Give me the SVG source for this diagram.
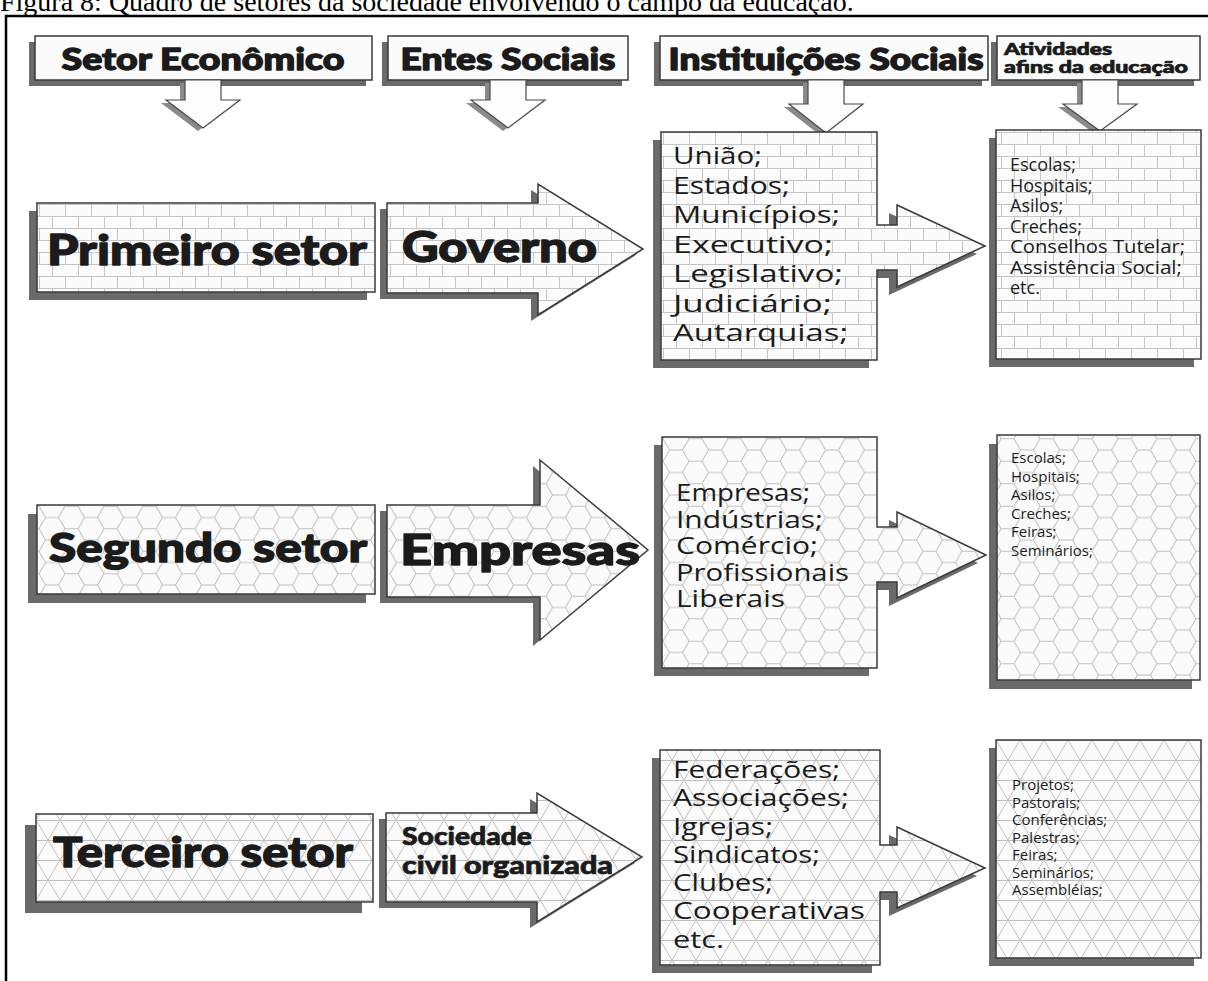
<svg xmlns="http://www.w3.org/2000/svg" width="1208" height="981" viewBox="0 0 1208 981">
<defs>
<style>
.shadow{fill:#6a6a6a}
.box{stroke:#3a3a3a;stroke-width:1.5}
.hbox{fill:#fbfbfb;stroke:#3a3a3a;stroke-width:1.5}
.darr{fill:#fdfdfd;stroke:#4a4a4a;stroke-width:1.2}
.dsh{fill:#8a8a8a}
.hdr{font-family:"Lato","DejaVu Sans",sans-serif;font-weight:900;fill:#1b1b1b;stroke:#1b1b1b;stroke-width:1.3;stroke-linejoin:round}
.hs{stroke-width:0.7}
.lst{font-family:"Open Sans","DejaVu Sans",sans-serif;fill:#1b1b1b}
.cap{font-family:"Liberation Serif","Times New Roman",serif;font-size:28px;fill:#000}
</style>
<pattern id="brick" width="26" height="24" patternUnits="userSpaceOnUse">
<rect width="26" height="24" fill="#fbfbfb"/>
<path d="M0 0.5H26M0 12.5H26M0.5 0V12M13.5 12V24" stroke="#c6c6c6" stroke-width="1" fill="none"/>
</pattern>
<pattern id="hex" width="39" height="22.5" patternUnits="userSpaceOnUse">
<rect width="39" height="22.5" fill="#fbfbfb"/>
<path d="M0 11.25L6.5 0H19.5L26 11.25L19.5 22.5H6.5ZM26 11.25H39" stroke="#c0c0c0" stroke-width="1" fill="none"/>
</pattern>
<pattern id="tri" width="24" height="40" patternUnits="userSpaceOnUse">
<rect width="24" height="40" fill="#fbfbfb"/>
<path d="M0 0.5H24M0 20.5H24M0 0L12 20L24 0M0 40L12 20L24 40" stroke="#c0c0c0" stroke-width="1" fill="none"/>
</pattern>
</defs>

<rect width="1208" height="981" fill="#fff"/>
<text class="cap" x="0" y="11">Figura 8: Quadro de setores da sociedade envolvendo o campo da educação.</text>
<rect x="6" y="16" width="1215" height="1000" fill="none" stroke="#000" stroke-width="2.5"/>

<!-- header row -->
<g id="h-setor">
<rect class="shadow" x="29" y="42" width="337" height="44"/>
<rect class="hbox" x="35" y="36" width="337" height="44"/>
<text class="hdr" x="203" y="70" font-size="30" text-anchor="middle" textLength="283" lengthAdjust="spacingAndGlyphs">Setor Econômico</text>
</g>
<g id="h-entes">
<rect class="shadow" x="382" y="42" width="240" height="44"/>
<rect class="hbox" x="388" y="36" width="240" height="44"/>
<text class="hdr" x="508" y="70" font-size="30" text-anchor="middle" textLength="215" lengthAdjust="spacingAndGlyphs">Entes Sociais</text>
</g>
<g id="h-inst">
<rect class="shadow" x="654" y="42" width="328" height="44"/>
<rect class="hbox" x="660" y="36" width="328" height="44"/>
<text class="hdr" x="826" y="70" font-size="30" text-anchor="middle" textLength="315" lengthAdjust="spacingAndGlyphs">Instituições Sociais</text>
</g>
<g id="h-ativ">
<rect class="shadow" x="991" y="42" width="203" height="44"/>
<rect class="hbox" x="997" y="36" width="203" height="44"/>
<text class="hdr hs" x="1004" y="55" font-size="16" textLength="108" lengthAdjust="spacingAndGlyphs">Atividades</text>
<text class="hdr hs" x="1004" y="73" font-size="16" textLength="184" lengthAdjust="spacingAndGlyphs">afins da educação</text>
</g>

<g id="connectors">
<g transform="translate(-5,3)">
<polygon class="dsh" points="185,80 221,80 221,100 240,100 203,128 166,100 185,100"/>
<polygon class="dsh" points="490,80 526,80 526,100 545,100 508,128 471,100 490,100"/>
<polygon class="dsh" points="808,80 844,80 844,104 863,104 826,133 789,104 808,104"/>
<polygon class="dsh" points="1082,80 1118,80 1118,104 1137,104 1100,131 1063,104 1082,104"/>
</g>
<polygon class="darr" points="185,80 221,80 221,100 240,100 203,128 166,100 185,100"/>
<polygon class="darr" points="490,80 526,80 526,100 545,100 508,128 471,100 490,100"/>
<polygon class="darr" points="808,80 844,80 844,104 863,104 826,133 789,104 808,104"/>
<polygon class="darr" points="1082,80 1118,80 1118,104 1137,104 1100,131 1063,104 1082,104"/>
</g>

<!-- row 1 -->
<g id="primeiro">
<rect class="shadow" x="29" y="211" width="338" height="89"/>
<rect class="box" x="37" y="203" width="338" height="89" fill="url(#brick)"/>
<text class="hdr" x="47" y="265" font-size="42" textLength="320" lengthAdjust="spacingAndGlyphs">Primeiro setor</text>
</g>
<g id="governo">
<polygon class="shadow" transform="translate(-7,6)" points="387,203 538,203 538,184 643,249 538,315 538,293 387,293"/>
<polygon class="box" fill="url(#brick)" points="387,203 538,203 538,184 643,249 538,315 538,293 387,293"/>
<text class="hdr" x="402" y="262" font-size="42" textLength="195" lengthAdjust="spacingAndGlyphs">Governo</text>
</g>
<g id="uniao">
<path class="shadow" transform="translate(-8,8)" d="M661 132H877V225H897V205L985 246L897 287V270H877V360H661Z"/>
<path class="box" fill="url(#brick)" d="M661 132H877V225H897V205L985 246L897 287V270H877V360H661Z"/>
<g class="lst" font-size="24.5">
<text x="673" y="164" textLength="89" lengthAdjust="spacingAndGlyphs">União;</text>
<text x="673" y="193.5" textLength="117" lengthAdjust="spacingAndGlyphs">Estados;</text>
<text x="673" y="223" textLength="167" lengthAdjust="spacingAndGlyphs">Municípios;</text>
<text x="673" y="252.5" textLength="160" lengthAdjust="spacingAndGlyphs">Executivo;</text>
<text x="673" y="282" textLength="170" lengthAdjust="spacingAndGlyphs">Legislativo;</text>
<text x="673" y="311.5" textLength="159" lengthAdjust="spacingAndGlyphs">Judiciário;</text>
<text x="673" y="341" textLength="175" lengthAdjust="spacingAndGlyphs">Autarquias;</text>
</g>
</g>
<g id="ativ1">
<rect class="shadow" x="989" y="138" width="205" height="229"/>
<rect class="box" x="996" y="130" width="205" height="229" fill="url(#brick)"/>
<g class="lst" font-size="18">
<text x="1010" y="171">Escolas;</text>
<text x="1010" y="191.5">Hospitais;</text>
<text x="1010" y="212">Asilos;</text>
<text x="1010" y="232.5">Creches;</text>
<text x="1010" y="253" textLength="175" lengthAdjust="spacingAndGlyphs">Conselhos Tutelar;</text>
<text x="1010" y="273.5" textLength="172" lengthAdjust="spacingAndGlyphs">Assistência Social;</text>
<text x="1010" y="294">etc.</text>
</g>
</g>

<!-- row 2 -->
<g id="segundo">
<rect class="shadow" x="28" y="514" width="338" height="89"/>
<rect class="box" x="37" y="505" width="338" height="89" fill="url(#hex)"/>
<text class="hdr" x="49" y="562" font-size="40" textLength="318" lengthAdjust="spacingAndGlyphs">Segundo setor</text>
</g>
<g id="empresas">
<polygon class="shadow" transform="translate(-7,6)" points="387,505 540,505 540,460 648,550 540,640 540,597 387,597"/>
<polygon class="box" fill="url(#hex)" points="387,505 540,505 540,460 648,550 540,640 540,597 387,597"/>
<text class="hdr" x="400" y="565" font-size="42" textLength="240" lengthAdjust="spacingAndGlyphs">Empresas</text>
</g>
<g id="empresas-list">
<path class="shadow" transform="translate(-8,8)" d="M662 437H877V527H897V512L986 555L897 598V582H877V668H662Z"/>
<path class="box" fill="url(#hex)" d="M662 437H877V527H897V512L986 555L897 598V582H877V668H662Z"/>
<g class="lst" font-size="23.5">
<text x="676" y="501" textLength="134" lengthAdjust="spacingAndGlyphs">Empresas;</text>
<text x="676" y="528" textLength="147" lengthAdjust="spacingAndGlyphs">Indústrias;</text>
<text x="676" y="554" textLength="142" lengthAdjust="spacingAndGlyphs">Comércio;</text>
<text x="676" y="581" textLength="173" lengthAdjust="spacingAndGlyphs">Profissionais</text>
<text x="676" y="607" textLength="109" lengthAdjust="spacingAndGlyphs">Liberais</text>
</g>
</g>
<g id="ativ2">
<rect class="shadow" x="989" y="444" width="203" height="245"/>
<rect class="box" x="997" y="435" width="203" height="245" fill="url(#hex)"/>
<g class="lst" font-size="15">
<text x="1011" y="463">Escolas;</text>
<text x="1011" y="481.5">Hospitais;</text>
<text x="1011" y="500">Asilos;</text>
<text x="1011" y="518.5">Creches;</text>
<text x="1011" y="537">Feiras;</text>
<text x="1011" y="555.5">Seminários;</text>
</g>
</g>

<!-- row 3 -->
<g id="terceiro">
<rect class="shadow" x="25" y="825" width="337" height="88"/>
<rect class="box" x="36" y="814" width="337" height="88" fill="url(#tri)"/>
<text class="hdr" x="53" y="867" font-size="41" textLength="300" lengthAdjust="spacingAndGlyphs">Terceiro setor</text>
</g>
<g id="sociedade">
<polygon class="shadow" transform="translate(-7,6)" points="386,813 537,813 537,793 642,857 537,922 537,902 386,902"/>
<polygon class="box" fill="url(#tri)" points="386,813 537,813 537,793 642,857 537,922 537,902 386,902"/>
<text class="hdr hs" x="402" y="845" font-size="24" textLength="130" lengthAdjust="spacingAndGlyphs">Sociedade</text>
<text class="hdr hs" x="402" y="874" font-size="24" textLength="211" lengthAdjust="spacingAndGlyphs">civil organizada</text>
</g>
<g id="federacoes">
<path class="shadow" transform="translate(-8,8)" d="M660 750H880V845H897V827L985 868L897 908V892H880V965H660Z"/>
<path class="box" fill="url(#tri)" d="M660 750H880V845H897V827L985 868L897 908V892H880V965H660Z"/>
<g class="lst" font-size="24">
<text x="673" y="778" textLength="167" lengthAdjust="spacingAndGlyphs">Federações;</text>
<text x="673" y="806" textLength="176" lengthAdjust="spacingAndGlyphs">Associações;</text>
<text x="673" y="835" textLength="100" lengthAdjust="spacingAndGlyphs">Igrejas;</text>
<text x="673" y="863" textLength="147" lengthAdjust="spacingAndGlyphs">Sindicatos;</text>
<text x="673" y="891" textLength="100" lengthAdjust="spacingAndGlyphs">Clubes;</text>
<text x="673" y="919" textLength="192" lengthAdjust="spacingAndGlyphs">Cooperativas</text>
<text x="673" y="948" textLength="51" lengthAdjust="spacingAndGlyphs">etc.</text>
</g>
</g>
<g id="ativ3">
<rect class="shadow" x="989" y="748" width="205" height="218"/>
<rect class="box" x="996" y="740" width="205" height="218" fill="url(#tri)"/>
<g class="lst" font-size="15">
<text x="1012" y="790">Projetos;</text>
<text x="1012" y="807.5">Pastorais;</text>
<text x="1012" y="825">Conferências;</text>
<text x="1012" y="842.5">Palestras;</text>
<text x="1012" y="860">Feiras;</text>
<text x="1012" y="877.5">Seminários;</text>
<text x="1012" y="895">Assembléias;</text>
</g>
</g>
</svg>
